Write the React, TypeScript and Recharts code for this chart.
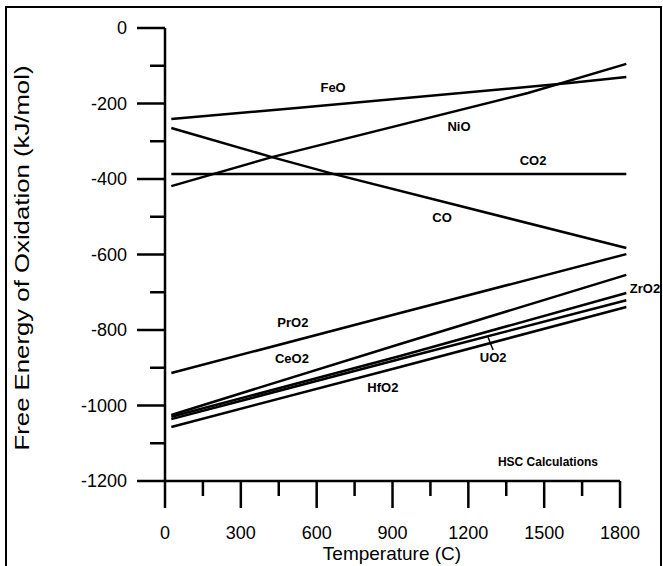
import React from "react"
import { LineChart, Line, XAxis, YAxis, ReferenceLine, ReferenceDot } from "recharts"

// temperature (C) vs free energy (kJ/mol)
const feo = [{ t: 25, g: -241 }, { t: 520, g: -212 }, { t: 1600, g: -146 }, { t: 1825, g: -130 }]
const nio = [{ t: 25, g: -419 }, { t: 423, g: -342 }, { t: 1436, g: -172 }, { t: 1825, g: -95 }]
const co2 = [{ t: 25, g: -387 }, { t: 1825, g: -387 }]
const co = [{ t: 25, g: -265 }, { t: 423, g: -342 }, { t: 669, g: -387 }, { t: 1825, g: -583 }]
const pro2 = [{ t: 25, g: -914 }, { t: 930, g: -755 }, { t: 1825, g: -599 }]
const ceo2 = [{ t: 25, g: -1025 }, { t: 930, g: -837 }, { t: 1825, g: -654 }]
const zro2 = [{ t: 25, g: -1030 }, { t: 930, g: -869 }, { t: 1825, g: -702 }]
const uo2 = [{ t: 25, g: -1036 }, { t: 930, g: -877 }, { t: 1825, g: -721 }]
const hfo2 = [{ t: 25, g: -1057 }, { t: 930, g: -898 }, { t: 1825, g: -739 }]

const series = [feo, nio, co2, co, pro2, ceo2, zro2, uo2, hfo2]

const labels = [
  { text: "FeO", t: 665, g: -156 },
  { text: "NiO", t: 1163, g: -260 },
  { text: "CO2", t: 1456, g: -352 },
  { text: "CO", t: 1096, g: -501 },
  { text: "PrO2", t: 506, g: -779 },
  { text: "CeO2", t: 502, g: -874 },
  { text: "HfO2", t: 862, g: -951 },
  { text: "UO2", t: 1298, g: -872 },
  { text: "ZrO2", t: 1899, g: -690 },
]

const xTicks = [0, 150, 300, 450, 600, 750, 900, 1050, 1200, 1350, 1500, 1650, 1800]
const yTicks = [0, -100, -200, -300, -400, -500, -600, -700, -800, -900, -1000, -1100, -1200]

const FONT = "'Liberation Sans', Arial, Helvetica, sans-serif"

const XTick = (props: any) => {
  const { x, y, payload } = props
  const major = payload.value % 300 === 0
  return (
    <g>
      <line x1={x} x2={x} y1={y} y2={y + (major ? 27 : 15)} stroke="#000" strokeWidth={2.5} />
      {major && (
        <text x={x} y={y + 52} dy="0.35em" textAnchor="middle" fontSize={18} fontFamily={FONT} fill="#000">
          {payload.value}
        </text>
      )}
    </g>
  )
}

const YTick = (props: any) => {
  const { x, y, payload } = props
  const major = payload.value % 200 === 0
  return (
    <g>
      <line x1={x - (major ? 28 : 15)} x2={x} y1={y} y2={y} stroke="#000" strokeWidth={2.5} />
      {major && (
        <text x={x - 38} y={y} dy="0.35em" textAnchor="end" fontSize={18} fontFamily={FONT} fill="#000">
          {payload.value}
        </text>
      )}
    </g>
  )
}

const XTitle = () => (
  <text x={392} y={553} dy="0.35em" textAnchor="middle" fontSize={19} fontFamily={FONT} fill="#000">
    Temperature (C)
  </text>
)

const YTitle = () => (
  <text
    transform="translate(22,258) rotate(-90)"
    dy="0.35em"
    textAnchor="middle"
    fontSize={21}
    fontFamily={FONT}
    textLength={385}
    lengthAdjust="spacingAndGlyphs"
    fill="#000"
  >
    Free Energy of Oxidation (kJ/mol)
  </text>
)

export default function App() {
  return (
    <div style={{ position: "relative", width: 663, height: 566, overflow: "hidden", background: "#fff" }}>
      <style>{`body { margin: 0; }`}</style>
      <div style={{ position: "absolute", left: 5, top: 6, width: 653, height: 620, border: "2px solid #000" }} />
      <LineChart
        width={663}
        height={566}
        margin={{ top: 28, right: 35.4, bottom: 0, left: 0 }}
        style={{ position: "absolute", left: 0, top: 0 }}
      >
        <XAxis
          type="number"
          dataKey="t"
          domain={[0, 1830]}
          ticks={xTicks}
          interval={0}
          height={85}
          axisLine={false}
          tickLine={false}
          tickSize={0}
          tickMargin={0}
          tick={<XTick />}
          label={<XTitle />}
        />
        <YAxis
          type="number"
          dataKey="g"
          domain={[-1200, 0]}
          ticks={yTicks}
          interval={0}
          width={165}
          axisLine={{ stroke: "#000", strokeWidth: 2.5 }}
          tickLine={false}
          tickSize={0}
          tickMargin={0}
          tick={<YTick />}
          label={<YTitle />}
        />
        <ReferenceLine
          segment={[{ x: 0, y: -1200 }, { x: 1800, y: -1200 }]}
          stroke="#000"
          strokeWidth={2.5}
          ifOverflow="visible"
        />
        {series.map((d, i) => (
          <Line
            key={i}
            data={d}
            dataKey="g"
            type="linear"
            stroke="#000"
            strokeWidth={2.5}
            dot={false}
            activeDot={false}
            isAnimationActive={false}
          />
        ))}
        <ReferenceLine
          segment={[{ x: 1278, y: -819 }, { x: 1298, y: -853 }]}
          stroke="#000"
          strokeWidth={1.5}
          ifOverflow="visible"
        />
        {labels.map((l) => (
          <ReferenceDot
            key={l.text}
            x={l.t}
            y={l.g}
            r={1}
            fill="none"
            stroke="none"
            ifOverflow="visible"
            label={{ value: l.text, position: "center", fontSize: 13, fontWeight: "bold", fill: "#000", fontFamily: FONT }}
          />
        ))}
        <ReferenceDot
          x={1515}
          y={-1150}
          r={1}
          fill="none"
          stroke="none"
          ifOverflow="visible"
          label={{ value: "HSC Calculations", position: "center", fontSize: 12, fontWeight: "bold", fill: "#000", fontFamily: FONT }}
        />
      </LineChart>
    </div>
  )
}
